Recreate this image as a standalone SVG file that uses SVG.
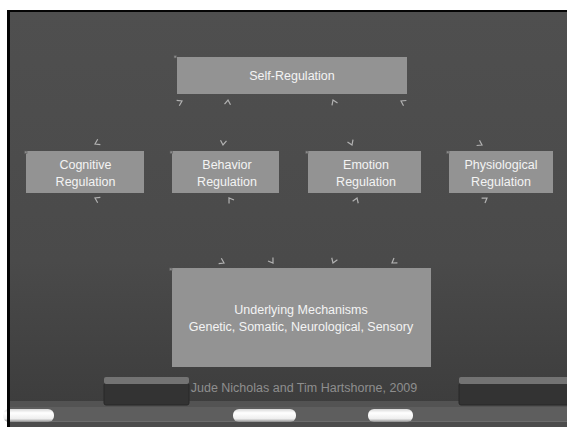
<svg xmlns="http://www.w3.org/2000/svg" width="567" height="427" viewBox="0 0 567 427">
  <defs>
    <linearGradient id="board" x1="0" y1="0" x2="0" y2="1">
      <stop offset="0" stop-color="#4f4f4f"/>
      <stop offset="0.6" stop-color="#4a4a4a"/>
      <stop offset="1" stop-color="#3b3b3b"/>
    </linearGradient>
    <linearGradient id="chalk" x1="0" y1="0" x2="0" y2="1">
      <stop offset="0" stop-color="#d8d8d8"/>
      <stop offset="0.3" stop-color="#ffffff"/>
      <stop offset="0.75" stop-color="#eeeeee"/>
      <stop offset="1" stop-color="#8a8a8a"/>
    </linearGradient>
    <marker id="arr" viewBox="0 0 8 8" refX="6" refY="4" markerWidth="8" markerHeight="8" markerUnits="userSpaceOnUse" orient="auto-start-reverse">
      <path d="M1.5,1 L6,4 L1.5,7" fill="none" stroke="#b2b2b2" stroke-width="1.2"/>
    </marker>
    <style>
      .box { fill: #939393; }
      .dot { fill: #8a8a8a; stroke: #5a5a5a; stroke-width: 0.6; }
      .lbl { font-family: "Liberation Sans", Arial, sans-serif; font-size: 12.5px; fill: #f4f4f4; text-anchor: middle; }
      .credit { font-family: "Liberation Sans", Arial, sans-serif; font-size: 12.5px; fill: #8e8e8e; text-anchor: middle; }
      .conn { fill: none; stroke: #4a4a4a; stroke-opacity: 0; stroke-width: 1; marker-start: url(#arr); marker-end: url(#arr); }
    </style>
  </defs>

  <!-- page + board -->
  <rect x="0" y="0" width="567" height="427" fill="#ffffff"/>
  <rect x="7" y="10" width="560" height="417" fill="#050505"/>
  <rect x="10" y="12" width="557" height="415" fill="url(#board)"/>

  <!-- chalk tray -->
  <rect x="10" y="401" width="557" height="6" fill="#535353"/>
  <rect x="10" y="407" width="557" height="14" fill="#5e5e5e"/>
  <rect x="10" y="421" width="557" height="1" fill="#6c6c6c"/>
  <rect x="10" y="422" width="557" height="5" fill="#4c4c4c"/>

  <!-- erasers -->
  <rect x="104" y="383" width="85" height="22" rx="2" fill="#333333" stroke="#282828" stroke-width="1"/>
  <rect x="104" y="377" width="85" height="7" rx="2" fill="#737373"/>
  <rect x="459" y="383" width="112" height="22" rx="2" fill="#333333" stroke="#282828" stroke-width="1"/>
  <rect x="459" y="377" width="112" height="7" rx="2" fill="#737373"/>

  <!-- chalk pieces -->
  <rect x="3" y="409" width="51" height="13" rx="6" fill="url(#chalk)"/>
  <rect x="7" y="407" width="3" height="20" fill="#050505"/>
  <rect x="233" y="409" width="63" height="13" rx="6" fill="url(#chalk)"/>
  <rect x="368" y="409" width="45" height="13" rx="6" fill="url(#chalk)"/>

  <!-- connectors -->
  <g id="connectors">
    <path class="conn" d="M182,101 L95,144"/>
    <path class="conn" d="M228,100 L223,145"/>
    <path class="conn" d="M333,100 L352,145"/>
    <path class="conn" d="M401,101 L482,145"/>
    <path class="conn" d="M95,198 L224,263"/>
    <path class="conn" d="M229,198 L273,263"/>
    <path class="conn" d="M357,198 L333,263"/>
    <path class="conn" d="M487,198 L392,263"/>
  </g>

  <!-- nodes -->
  <g id="self-regulation">
    <rect class="box" x="177" y="57" width="230" height="37"/>
    <rect class="dot" x="174" y="55.5" width="2.5" height="2.5"/>
    <text class="lbl" x="292" y="80">Self-Regulation</text>
  </g>
  <g id="cognitive-regulation">
    <rect class="box" x="26" y="151" width="118" height="42"/>
    <rect class="dot" x="24.5" y="151" width="2.5" height="2.5"/>
    <text class="lbl" x="85.5" y="169">Cognitive</text>
    <text class="lbl" x="85.5" y="186">Regulation</text>
  </g>
  <g id="behavior-regulation">
    <rect class="box" x="172" y="151" width="107" height="42"/>
    <rect class="dot" x="170" y="151" width="2.5" height="2.5"/>
    <text class="lbl" x="227" y="169">Behavior</text>
    <text class="lbl" x="227" y="186">Regulation</text>
  </g>
  <g id="emotion-regulation">
    <rect class="box" x="308" y="151" width="113" height="42"/>
    <rect class="dot" x="305.5" y="151" width="2.5" height="2.5"/>
    <text class="lbl" x="366" y="169">Emotion</text>
    <text class="lbl" x="366" y="186">Regulation</text>
  </g>
  <g id="physiological-regulation">
    <rect class="box" x="449" y="151" width="104" height="42"/>
    <rect class="dot" x="446.5" y="151" width="2.5" height="2.5"/>
    <text class="lbl" x="501" y="169">Physiological</text>
    <text class="lbl" x="501" y="186">Regulation</text>
  </g>
  <g id="underlying-mechanisms">
    <rect class="box" x="172" y="268" width="259" height="99"/>
    <rect class="dot" x="169.5" y="268" width="2.5" height="2.5"/>
    <text class="lbl" x="301" y="314">Underlying Mechanisms</text>
    <text class="lbl" x="301" y="331">Genetic, Somatic, Neurological, Sensory</text>
  </g>

  <text class="credit" x="304" y="392">Jude Nicholas and Tim Hartshorne, 2009</text>
</svg>
